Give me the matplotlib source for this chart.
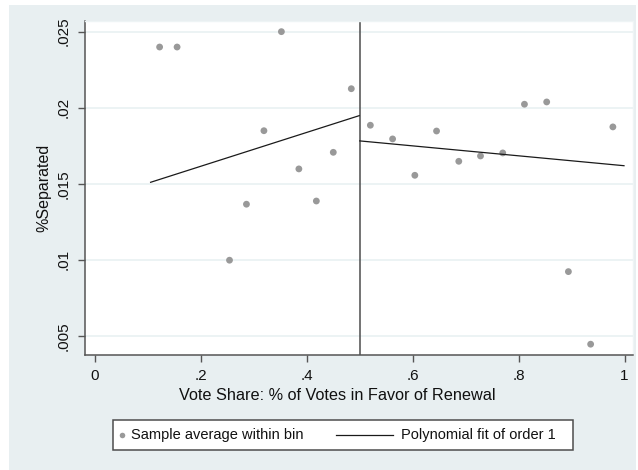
import matplotlib
matplotlib.use("Agg")
import matplotlib.pyplot as plt
from matplotlib.patches import Rectangle
from matplotlib.lines import Line2D

plt.rcParams['font.family'] = ['Liberation Sans', 'DejaVu Sans']

# Binned sample averages (left of cutoff, right of cutoff)
bin_x = [0.122, 0.155, 0.254, 0.286, 0.319, 0.352, 0.385, 0.418, 0.450, 0.484,
         0.520, 0.562, 0.604, 0.645, 0.687, 0.728, 0.770, 0.811, 0.853, 0.894,
         0.936, 0.978]
bin_y = [0.02399, 0.02399, 0.00998, 0.01366, 0.01849, 0.02500, 0.01598, 0.01387,
         0.01707, 0.02125,
         0.01885, 0.01795, 0.01556, 0.01847, 0.01648, 0.01683, 0.01703, 0.02023,
         0.02038, 0.00923, 0.00446, 0.01874]

# Linear fits on each side of the cutoff
fit_left_x = [0.105, 0.499]
fit_left_y = [0.01510, 0.01948]
fit_right_x = [0.500, 0.999]
fit_right_y = [0.01782, 0.01619]

cutoff = 0.5
xticks = [0, 0.2, 0.4, 0.6, 0.8, 1.0]
xtick_labels = ['0', '.2', '.4', '.6', '.8', '1']
yticks = [0.005, 0.01, 0.015, 0.02, 0.025]
ytick_labels = ['.005', '.01', '.015', '.02', '.025']

W, H = 638, 470
bg = '#e8eff1'
fig = plt.figure(figsize=(W / 100, H / 100), dpi=100, facecolor='white')
fig.patches.append(Rectangle((9 / W, 0), (636 - 9) / W, (470 - 5) / H,
                             transform=fig.transFigure, facecolor=bg,
                             edgecolor='none', zorder=-10))

ax = fig.add_axes([85 / W, 1 - 355 / H, (633 - 85) / W, (355 - 21) / H])
ax.set_facecolor('white')
ax.set_xlim(-0.0189, 1.016)
ax.set_ylim(0.00375, 0.0257)

for y in yticks:
    ax.axhline(y, color='#eaf2f3', lw=1.3, zorder=0)

ax.scatter(bin_x, bin_y, s=24, color='#999999', edgecolors='none', zorder=3)
ax.plot(fit_left_x, fit_left_y, color='#1a1a1a', lw=0.9, zorder=4)
ax.plot(fit_right_x, fit_right_y, color='#1a1a1a', lw=0.9, zorder=4)
ax.axvline(cutoff, color='#4d4d4d', lw=1.1, zorder=2)

for s in ['top', 'right']:
    ax.spines[s].set_color('#eef4f5')
    ax.spines[s].set_linewidth(1.0)
for s in ['left', 'bottom']:
    ax.spines[s].set_color('#555555')
    ax.spines[s].set_linewidth(1.1)

ax.set_xticks(xticks)
ax.set_xticklabels(xtick_labels)
ax.set_yticks(yticks)
ax.set_yticklabels(ytick_labels, rotation=90, va='center')
ax.tick_params(axis='both', direction='out', length=5, width=1.0, color='#555555',
               labelsize=11, labelcolor='#111111', pad=5)

fig.text(337.5 / W, 1 - 395 / H, 'Vote Share: % of Votes in Favor of Renewal',
         ha='center', va='center', fontsize=11.7, color='#111111')
fig.text(44 / W, 1 - 188 / H, '%Separated', rotation=90, ha='center', va='center',
         fontsize=11.5, color='#111111')

# Legend box
lx0, lx1, ly0, ly1 = 113, 573, 420, 450
fig.patches.append(Rectangle((lx0 / W, 1 - ly1 / H), (lx1 - lx0) / W, (ly1 - ly0) / H,
                             transform=fig.transFigure, facecolor='white',
                             edgecolor='#4d4d4d', lw=1.1, zorder=5))
ly = 1 - 435 / H
fig.add_artist(Line2D([122 / W], [ly], marker='o', markersize=4.0, color='#999999',
                      markeredgecolor='none', linestyle='none', transform=fig.transFigure,
                      zorder=6))
fig.text(131 / W, ly, 'Sample average within bin', ha='left', va='center',
         fontsize=10.5, color='#111111', zorder=6)
fig.add_artist(Line2D([336 / W, 393 / W], [ly, ly], color='#1a1a1a', lw=0.9,
                      transform=fig.transFigure, zorder=6))
fig.text(401 / W, ly, 'Polynomial fit of order 1', ha='left', va='center',
         fontsize=10.5, color='#111111', zorder=6)

fig.savefig('out.png', dpi=100, facecolor='white')
